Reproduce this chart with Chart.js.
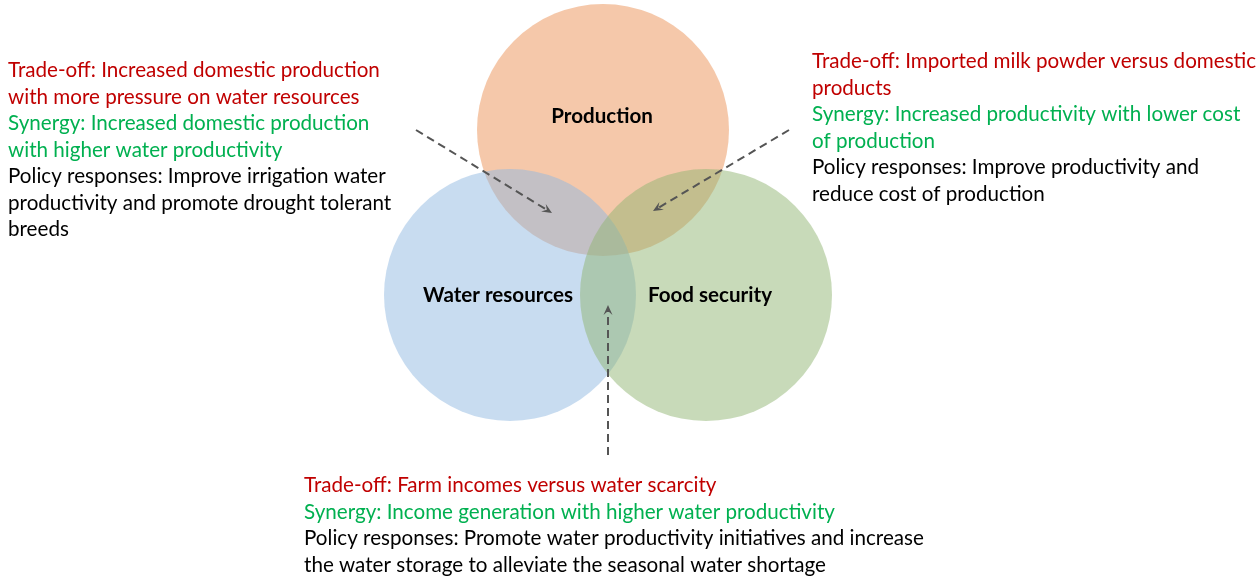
<!DOCTYPE html>
<html>
<head>
<meta charset="utf-8">
<script src="https://cdn.jsdelivr.net/npm/chart.js@4/dist/chart.umd.min.js"></script>
<style>
  html,body{margin:0;padding:0;background:#fff;}
  #wrap{width:1258px;height:579px;position:relative;}
</style>
</head>
<body>
<div id="wrap"><canvas id="c"></canvas></div>
<script>
// ---- Data (plot units = pixels of the 1258x579 frame) ----
const circleNames = ["Production", "Water resources", "Food security"];
const circleX = [603, 510, 706];
const circleY = [130, 295, 295];
const circleR = [126, 126, 126];
const circleColors = ["rgba(235,145,85,0.5)", "rgba(145,185,225,0.5)", "rgba(145,181,115,0.5)"];
const labelX = [602, 498, 710];
const labelY = [116, 295, 295];

// annotation blocks
const leftLines = [
  ["Trade-off: Increased domestic production", "#C00000"],
  ["with more pressure on water resources", "#C00000"],
  ["Synergy: Increased domestic production", "#00B050"],
  ["with higher water productivity", "#00B050"],
  ["Policy responses: Improve irrigation water", "#000000"],
  ["productivity and promote drought tolerant", "#000000"],
  ["breeds", "#000000"]
];
const rightLines = [
  ["Trade-off: Imported milk powder versus domestic", "#C00000"],
  ["products", "#C00000"],
  ["Synergy: Increased productivity with lower cost", "#00B050"],
  ["of production", "#00B050"],
  ["Policy responses: Improve productivity and", "#000000"],
  ["reduce cost of production", "#000000"]
];
const bottomLines = [
  ["Trade-off: Farm incomes versus water scarcity", "#C00000"],
  ["Synergy: Income generation with higher water productivity", "#00B050"],
  ["Policy responses: Promote water productivity initiatives and increase", "#000000"],
  ["the water storage to alleviate the seasonal water shortage", "#000000"]
];
const blockX = [8, 812, 304];
const blockBaseY = [77, 68, 492];
const lineGap = 26.5;

// arrows: [x0, y0] -> [x1, y1] (tip)
const arrowsFrom = [[416, 130], [789, 130], [608, 455]];
const arrowsTo = [[552, 213], [653, 211], [608, 305]];

const BODY_FONT = "Lato, 'Open Sans', sans-serif";

const drawPlugin = {
  id: 'vennAnnotations',
  afterDatasetsDraw(chart) {
    const ctx = chart.ctx;
    const xs = chart.scales.x, ys = chart.scales.y;
    ctx.save();
    ctx.font = "100px " + BODY_FONT;
    const bodySize = 100 * 372 / ctx.measureText(leftLines[0][0]).width;
    ctx.font = "bold 100px " + BODY_FONT;
    const boldSize = 100 * 150 / ctx.measureText(circleNames[1]).width;

    // circle labels
    ctx.font = "bold " + boldSize.toFixed(2) + "px " + BODY_FONT;
    ctx.fillStyle = "#000";
    ctx.textAlign = "center";
    ctx.textBaseline = "middle";
    circleNames.forEach((n, i) => {
      ctx.fillText(n, xs.getPixelForValue(labelX[i]), ys.getPixelForValue(labelY[i]));
    });

    // arrows
    ctx.strokeStyle = "#555555";
    ctx.fillStyle = "#555555";
    ctx.lineWidth = 2;
    arrowsFrom.forEach((f, i) => {
      const x0 = xs.getPixelForValue(f[0]), y0 = ys.getPixelForValue(f[1]);
      const x1 = xs.getPixelForValue(arrowsTo[i][0]), y1 = ys.getPixelForValue(arrowsTo[i][1]);
      const ang = Math.atan2(y1 - y0, x1 - x0);
      ctx.setLineDash([8, 5]);
      ctx.beginPath();
      ctx.moveTo(x0, y0);
      ctx.lineTo(x1 - 3 * Math.cos(ang), y1 - 3 * Math.sin(ang));
      ctx.stroke();
      ctx.setLineDash([]);
      const L = 11, W = 0.42;
      ctx.beginPath();
      ctx.moveTo(x1, y1);
      ctx.lineTo(x1 - L * Math.cos(ang - W), y1 - L * Math.sin(ang - W));
      ctx.lineTo(x1 - 0.55 * L * Math.cos(ang), y1 - 0.55 * L * Math.sin(ang));
      ctx.lineTo(x1 - L * Math.cos(ang + W), y1 - L * Math.sin(ang + W));
      ctx.closePath();
      ctx.fill();
    });

    // text blocks
    ctx.font = bodySize.toFixed(2) + "px " + BODY_FONT;
    ctx.textAlign = "left";
    ctx.textBaseline = "alphabetic";
    [leftLines, rightLines, bottomLines].forEach((blk, b) => {
      blk.forEach((ln, k) => {
        ctx.fillStyle = ln[1];
        ctx.fillText(ln[0], xs.getPixelForValue(blockX[b]), ys.getPixelForValue(blockBaseY[b] + k * lineGap));
      });
    });
    ctx.restore();
  }
};

new Chart(document.getElementById('c'), {
  type: 'bubble',
  data: {
    datasets: [{
      data: circleNames.map((n, i) => ({x: circleX[i], y: circleY[i], r: circleR[i]})),
      backgroundColor: circleColors,
      borderWidth: 0,
      hoverRadius: 0,
      clip: false
    }]
  },
  options: {
    responsive: true,
    maintainAspectRatio: false,
    animation: false,
    events: [],
    layout: {padding: 0, autoPadding: false},
    plugins: {legend: {display: false}, tooltip: {enabled: false}},
    scales: {
      x: {type: 'linear', display: false, min: 0, max: 1258},
      y: {type: 'linear', display: false, min: 0, max: 579, reverse: true}
    }
  },
  plugins: [drawPlugin]
});
</script>
</body>
</html>
